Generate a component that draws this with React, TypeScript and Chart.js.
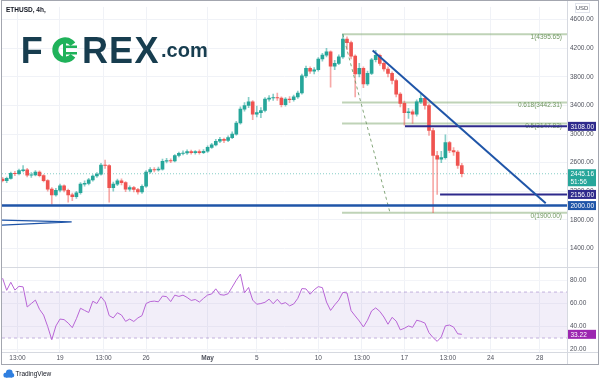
import React, { useEffect, useRef } from 'react';
import { Chart, registerables } from 'chart.js';

Chart.register(...registerables);

const FONT = '"Liberation Sans", "DejaVu Sans", Arial, sans-serif';

// x axis is "day number": April days as-is, May 1 = 31, May 28 = 58
const FIRST_CANDLE_DAY = 14 + 1 / 3; // Apr 14, 08:00
const CANDLE_STEP_DAYS = 1 / 3; // 8h candles
const X_MIN = 14.285;
const X_MAX = 60.22;

const opens = [
  2370, 2350, 2380, 2450, 2445, 2490, 2500, 2425, 2430, 2470,
  2420, 2350, 2230, 2150, 2215, 2277, 2215, 2150, 2125, 2180,
  2300, 2310, 2360, 2414, 2440, 2565, 2560, 2250, 2299, 2345,
  2320, 2230, 2250, 2225, 2190, 2270, 2470, 2505, 2500, 2510,
  2620, 2630, 2625, 2700, 2730, 2735, 2755, 2740, 2755, 2740,
  2760, 2815, 2850, 2900, 2925, 2910, 2950, 3000, 3155, 3350,
  3400, 3450, 3280, 3300, 3330, 3490, 3505, 3510, 3505, 3410,
  3490, 3480, 3520, 3575, 3815, 3920, 3880, 3900, 4050, 4105,
  4150, 3950, 3990, 4080, 4330, 4280, 4090, 3840, 3920, 3700,
  3850, 4040, 4100, 3990, 3910, 3850, 3750, 3560, 3430, 3300,
  3310, 3280, 3450, 3500, 3400, 3050, 2700, 2650, 2670, 2880,
  2770, 2750, 2560,
];
const highs = [
  2395, 2400, 2470, 2480, 2510, 2560, 2520, 2460, 2490, 2485,
  2435, 2365, 2250, 2240, 2300, 2290, 2230, 2175, 2200, 2320,
  2345, 2380, 2430, 2460, 2590, 2635, 2575, 2330, 2370, 2375,
  2335, 2275, 2270, 2240, 2290, 2490, 2530, 2530, 2540, 2650,
  2660, 2655, 2715, 2750, 2765, 2780, 2775, 2770, 2780, 2785,
  2835, 2870, 2925, 2955, 2945, 2975, 3030, 3180, 3380, 3440,
  3515, 3470, 3390, 3370, 3510, 3540, 3560, 3575, 3520, 3510,
  3525, 3545, 3600, 3840, 3950, 3940, 3930, 4070, 4130, 4200,
  4165, 4030, 4110, 4395.65, 4360, 4300, 4110, 3990, 3940, 3880,
  4060, 4170, 4120, 4010, 3940, 3870, 3770, 3580, 3460, 3360,
  3340, 3480, 3560, 3520, 3420, 3080, 2760, 2760, 2990, 2900,
  2810, 2770, 2590,
];
const lows = [
  2330, 2320, 2370, 2420, 2430, 2470, 2400, 2395, 2415, 2400,
  2330, 2200, 2020, 2130, 2190, 2190, 2047, 2070, 2100, 2160,
  2270, 2290, 2340, 2395, 2425, 2520, 2047, 2200, 2280, 2290,
  2195, 2200, 2190, 2160, 2170, 2255, 2450, 2470, 2480, 2495,
  2595, 2600, 2610, 2680, 2710, 2715, 2720, 2720, 2720, 2725,
  2745, 2800, 2835, 2880, 2880, 2895, 2935, 2985, 3140, 3320,
  3370, 3200, 3240, 3230, 3310, 3460, 3470, 3470, 3380, 3390,
  3440, 3460, 3500, 3560, 3790, 3850, 3840, 3880, 4020, 4080,
  3657, 3900, 3970, 4060, 4180, 4050, 3519, 3800, 3650, 3680,
  3830, 4010, 3960, 3880, 3800, 3700, 3520, 3380, 3125, 3220,
  3150, 3250, 3430, 3350, 2980, 1900, 2156, 2600, 2650, 2740,
  2700, 2520, 2400,
];
const closes = [
  2350, 2380, 2450, 2445, 2490, 2500, 2425, 2430, 2470, 2420,
  2350, 2230, 2150, 2215, 2277, 2215, 2150, 2125, 2180, 2300,
  2310, 2360, 2414, 2440, 2565, 2560, 2250, 2299, 2345, 2320,
  2230, 2250, 2225, 2190, 2270, 2470, 2505, 2500, 2510, 2620,
  2630, 2625, 2700, 2730, 2735, 2755, 2740, 2755, 2740, 2760,
  2815, 2850, 2900, 2925, 2910, 2950, 3000, 3155, 3350, 3400,
  3450, 3280, 3300, 3330, 3490, 3505, 3510, 3505, 3410, 3490,
  3480, 3520, 3575, 3815, 3920, 3880, 3900, 4050, 4105, 4150,
  3950, 3990, 4080, 4330, 4280, 4090, 3840, 3920, 3700, 3850,
  4040, 4100, 3990, 3910, 3850, 3750, 3560, 3430, 3300, 3310,
  3280, 3450, 3500, 3400, 3050, 2700, 2650, 2670, 2880, 2770,
  2750, 2560, 2445.16,
];
const rsiValues = [
  82, 71.5, 78.5, 71.7, 75, 74.5, 57, 60, 63, 55,
  50, 40, 28.5, 40.5, 46.5, 46, 43, 39, 46.8, 55.9,
  54, 52.2, 62, 60, 66, 61.5, 49.5, 47.5, 52, 50,
  44.5, 46.5, 44.4, 47.5, 49.5, 60, 61.7, 62.1, 61.5, 66.5,
  66, 61.7, 67.3, 66.2, 67.3, 65.3, 62.7, 63.5, 61.3, 64.5,
  67.4, 68.3, 72.8, 67.8, 67.3, 68.5, 74.3, 80.3, 85.6, 69.3,
  74, 63, 59.4, 60, 61.1, 63.8, 59.8, 63.7, 59.6, 60.8,
  58, 59.6, 64.5, 73, 72.7, 68.1, 72, 74.7, 73.8, 61.3,
  54, 58.8, 63, 69.7, 69.2, 53.8, 49.2, 44.8, 39.6, 45.5,
  53.6, 56.2, 53.2, 48.3, 42, 48, 44.7, 37.1, 38.5, 40.5,
  39.3, 45.5, 44.5, 43, 34.6, 30.3, 27.1, 31, 40.6, 41.3,
  39.5, 33.7, 33.22,
];

const priceTicks = [1400, 1600, 1800, 2000, 2200, 2400, 2600, 2800, 3000, 3200, 3400, 3600, 3800, 4000, 4200, 4400, 4600];
const rsiTicks = [20, 40, 60, 80];
const timeTickDays = [15.54, 19, 22.54, 26, 31, 35, 40, 43.54, 47, 50.54, 54, 58];
const timeTickLabels = ['13:00', '19', '13:00', '26', 'May', '5', '10', '13:00', '17', '13:00', '24', '28'];

const fibLevels = [1, 0.618, 0.5, 0];
const fibPrices = [4395.65, 3442.31, 3147.83, 1900.0];
const FIB_START_DAY = 41.93;
const fibDiagonalDays = [42.0, 45.83];
const fibDiagonalPrices = [4395.65, 1900];
const trendDays = [44.42, 58.49];
const trendPrices = [4170, 2033];
const supportPrices = [3108, 2156];
const supportStartDays = [47.05, 49.9];
const KEY_LEVEL = 2000;
const LAST_PRICE = 2445.16;
const COUNTDOWN = '51:56';
const LAST_RSI = 33.22;
const RSI_UPPER = 70;
const RSI_LOWER = 30;
const wedgeDays = [14.285, 19.95, 14.285];
const wedgePrices = [1796, 1772, 1727];

const UP = '#26a69a';
const DOWN = '#ef5350';
const NAVY = '#2e2a8c';
const BLUE = '#1f55a8';

function seg(x1: number, y1: number, x2: number, y2: number) {
  return [{ x: x1, y: y1 }, { x: x2, y: y2 }];
}

const overlayPlugin = {
  id: 'overlay',
  beforeDatasetsDraw(chart: any) {
    const ctx = chart.ctx;
    const ys = chart.scales.y;
    ctx.save();
    // FOREX.com logo
    const navyLogo = '#173d4f';
    ctx.fillStyle = navyLogo;
    ctx.font = `bold 36px ${FONT}`;
    ctx.textAlign = 'center';
    ctx.textBaseline = 'alphabetic';
    ctx.fillText('F', 31.7, 63);
    ctx.fillText('R', 95, 63);
    ctx.fillText('E', 121, 63);
    ctx.fillText('X', 146.5, 63);
    ctx.strokeStyle = '#1fb25a';
    ctx.lineWidth = 6;
    ctx.beginPath();
    ctx.arc(65, 50, 9.7, 0.2 * Math.PI, 1.8 * Math.PI);
    ctx.stroke();
    ctx.fillStyle = '#1fb25a';
    ctx.fillRect(63, 41, 3, 18);
    ctx.fillRect(66, 45.5, 11, 2.5);
    ctx.fillRect(66, 52, 11, 2.5);
    ctx.fillStyle = navyLogo;
    ctx.font = `bold 20px ${FONT}`;
    ctx.textAlign = 'left';
    ctx.fillText('.com', 161, 57);
    // fib labels
    ctx.font = `6.5px ${FONT}`;
    ctx.fillStyle = '#6f9560';
    ctx.textAlign = 'right';
    ctx.textBaseline = 'middle';
    fibLevels.forEach((lv, i) => {
      ctx.fillText(`${lv}(${fibPrices[i].toFixed(2)})`, 562, ys.getPixelForValue(fibPrices[i]) + 3);
    });
    ctx.restore();
  },
  afterDraw(chart: any) {
    const ctx = chart.ctx;
    const ys = chart.scales.y;
    const yr = chart.scales.yr;
    const ca = chart.chartArea;
    ctx.save();
    const hl = (x1: number, y: number, x2: number) => {
      ctx.beginPath();
      ctx.moveTo(x1, y);
      ctx.lineTo(x2, y);
      ctx.stroke();
    };
    ctx.lineWidth = 1;
    ctx.strokeStyle = '#d6d9e0';
    hl(ca.left, Math.round(ys.bottom) + 0.5, 598);
    hl(ca.left, Math.round(ca.bottom) + 0.5, 598);
    ctx.beginPath();
    ctx.moveTo(Math.round(ca.right) + 0.5, 0);
    ctx.lineTo(Math.round(ca.right) + 0.5, 364);
    ctx.stroke();
    ctx.strokeStyle = '#a3a6af';
    ctx.strokeRect(1.5, 0.5, 597, 364);

    // title
    ctx.fillStyle = '#131722';
    ctx.font = `600 6.5px ${FONT}`;
    ctx.textAlign = 'left';
    ctx.textBaseline = 'middle';
    ctx.fillText('ETHUSD, 4h,', 6, 10);

    // USD label
    ctx.fillStyle = '#50535e';
    ctx.font = `6px ${FONT}`;
    ctx.textAlign = 'center';
    ctx.fillText('USD', 582, 8);
    ctx.strokeStyle = '#e0e3eb';
    ctx.strokeRect(575.5, 3.5, 14, 9);

    // price boxes
    const left = Math.round(ca.right) + 1;
    const w = 28;
    const box = (cy: number, bg: string, lines: string[]) => {
      ctx.fillStyle = bg;
      ctx.fillRect(left, cy - 4.5, w, 9 + (lines.length - 1) * 8);
      ctx.fillStyle = '#ffffff';
      ctx.font = `6.5px ${FONT}`;
      ctx.textAlign = 'left';
      ctx.textBaseline = 'middle';
      lines.forEach((t, k) => ctx.fillText(t, left + 2.5, cy + 0.5 + k * 8));
    };
    box(ys.getPixelForValue(supportPrices[0]), NAVY, [supportPrices[0].toFixed(2)]);
    box(ys.getPixelForValue(LAST_PRICE), UP, [LAST_PRICE.toFixed(2), COUNTDOWN]);
    box(ys.getPixelForValue(supportPrices[1]), NAVY, [supportPrices[1].toFixed(2)]);
    box(ys.getPixelForValue(KEY_LEVEL), BLUE, [KEY_LEVEL.toFixed(2)]);
    box(yr.getPixelForValue(LAST_RSI), '#9c27b0', [LAST_RSI.toFixed(2)]);

    // TradingView logo
    ctx.fillStyle = '#2f7fe0';
    ctx.beginPath();
    ctx.arc(6, 375, 2.6, 0, Math.PI * 2);
    ctx.arc(9.3, 373, 3.4, 0, Math.PI * 2);
    ctx.arc(12, 375.3, 2.3, 0, Math.PI * 2);
    ctx.fill();
    ctx.fillRect(6, 375, 6, 2.6);
    ctx.fillStyle = '#131722';
    ctx.font = `6.5px ${FONT}`;
    ctx.textAlign = 'left';
    ctx.textBaseline = 'middle';
    ctx.fillText('TradingView', 15.5, 374);
    ctx.restore();
  },
};

export default function App() {
  const ref = useRef<HTMLCanvasElement>(null);
  useEffect(() => {
    const canvas = ref.current;
    if (!canvas) return;
    const times = closes.map((_, i) => FIRST_CANDLE_DAY + i * CANDLE_STEP_DAYS);
    const isUp = closes.map((c, i) => c >= opens[i]);
    const bodies = closes.map((c, i) => ({ x: times[i], y: [opens[i], c] }));
    const wicks = closes.map((_, i) => ({ x: times[i], y: [lows[i], highs[i]] }));
    const rsiData = rsiValues.map((v, i) => ({ x: times[i], y: v }));
    const lineBase = { type: 'line', pointRadius: 0, fill: false, tension: 0 };

    const datasets: any[] = [
      { ...lineBase, yAxisID: 'yr', data: seg(X_MIN, RSI_UPPER, X_MAX, RSI_UPPER), borderColor: 'rgba(140,110,190,0.5)', borderDash: [3, 3], borderWidth: 1, order: 21 },
      { ...lineBase, yAxisID: 'yr', data: seg(X_MIN, RSI_LOWER, X_MAX, RSI_LOWER), borderColor: 'rgba(140,110,190,0.5)', borderDash: [3, 3], borderWidth: 1, fill: '-1', backgroundColor: 'rgba(126,87,194,0.1)', order: 20 },
      ...fibPrices.map((p) => ({ ...lineBase, yAxisID: 'y', data: seg(FIB_START_DAY, p, X_MAX, p), borderColor: 'rgba(128,168,112,0.5)', borderWidth: 2, order: 15 })),
      { ...lineBase, yAxisID: 'y', data: seg(X_MIN, LAST_PRICE, X_MAX, LAST_PRICE), borderColor: 'rgba(38,166,154,0.55)', borderDash: [1, 2], borderWidth: 1, order: 14 },
      { type: 'bar', yAxisID: 'y', data: wicks, backgroundColor: isUp.map((u) => (u ? 'rgba(38,166,154,0.55)' : 'rgba(239,83,80,0.5)')), barThickness: 1, grouped: false, borderWidth: 0, order: 10 },
      { type: 'bar', yAxisID: 'y', data: bodies, backgroundColor: isUp.map((u) => (u ? UP : DOWN)), barThickness: 3, grouped: false, borderWidth: 0, order: 9 },
      { ...lineBase, yAxisID: 'y', data: fibDiagonalDays.map((d, i) => ({ x: d, y: fibDiagonalPrices[i] })), borderColor: 'rgba(110,150,100,0.85)', borderDash: [3, 3], borderWidth: 1, order: 8 },
      ...supportPrices.map((p, i) => ({ ...lineBase, yAxisID: 'y', data: seg(supportStartDays[i], p, X_MAX, p), borderColor: NAVY, borderWidth: 2, order: 6 })),
      { ...lineBase, yAxisID: 'y', data: seg(X_MIN, KEY_LEVEL, X_MAX, KEY_LEVEL), borderColor: BLUE, borderWidth: 2.5, order: 5 },
      { ...lineBase, yAxisID: 'y', data: trendDays.map((d, i) => ({ x: d, y: trendPrices[i] })), borderColor: BLUE, borderWidth: 2, order: 4 },
      { ...lineBase, yAxisID: 'y', data: wedgeDays.map((d, i) => ({ x: d, y: wedgePrices[i] })), borderColor: BLUE, borderWidth: 1.3, order: 4 },
      { ...lineBase, yAxisID: 'yr', data: rsiData, borderColor: '#b865d6', borderWidth: 1, order: 3 },
    ];

    const tickFont = { family: FONT, size: 6.5 };
    const chart = new Chart(canvas, {
      type: 'bar',
      data: { datasets },
      plugins: [overlayPlugin],
      options: {
        animation: false,
        responsive: false,
        devicePixelRatio: 1,
        events: [],
        layout: { padding: { left: 2, right: 2, top: 2, bottom: 17 } },
        plugins: { legend: { display: false }, tooltip: { enabled: false }, title: { display: false } },
        scales: {
          x: {
            type: 'linear',
            min: X_MIN,
            max: X_MAX,
            bounds: 'data',
            offset: false,
            grid: { offset: false, color: '#f0f2f7', drawTicks: false },
            border: { display: false },
            afterBuildTicks: (s: any) => {
              s.ticks = timeTickDays.map((v) => ({ value: v }));
            },
            afterFit: (s: any) => {
              s.height = 12;
            },
            ticks: {
              autoSkip: false,
              maxRotation: 0,
              padding: 2,
              color: '#50535e',
              font: (c: any) => ({ family: FONT, size: 6.5, weight: c.tick && c.tick.label === 'May' ? 'bold' : 'normal' }),
              callback: (_v: any, i: number) => timeTickLabels[i] ?? '',
            },
          },
          y: {
            type: 'linear',
            position: 'right',
            stack: 'panes',
            stackWeight: 264,
            min: 1138,
            max: 4779,
            bounds: 'data',
            grid: { color: '#f0f2f7', drawTicks: false },
            border: { display: false },
            afterBuildTicks: (s: any) => {
              s.ticks = priceTicks.map((v) => ({ value: v }));
            },
            afterFit: (s: any) => {
              s.width = 31;
            },
            ticks: { padding: 3, color: '#50535e', font: tickFont, callback: (v: any) => Number(v).toFixed(2) },
          },
          yr: {
            type: 'linear',
            position: 'right',
            stack: 'panes',
            stackWeight: 86,
            min: 17.85,
            max: 91.6,
            bounds: 'data',
            grid: { color: '#f3f4f8', drawTicks: false },
            border: { display: false },
            afterBuildTicks: (s: any) => {
              s.ticks = rsiTicks.map((v) => ({ value: v }));
            },
            afterFit: (s: any) => {
              s.width = 31;
            },
            ticks: { padding: 3, color: '#50535e', font: tickFont, callback: (v: any) => Number(v).toFixed(2) },
          },
        },
      } as any,
    } as any);
    return () => chart.destroy();
  }, []);
  return (
    <div style={{ position: 'absolute', left: 0, top: 0, width: 600, height: 381, background: '#ffffff' }}>
      <canvas ref={ref} width={600} height={381} style={{ display: 'block', width: 600, height: 381 }} />
    </div>
  );
}
